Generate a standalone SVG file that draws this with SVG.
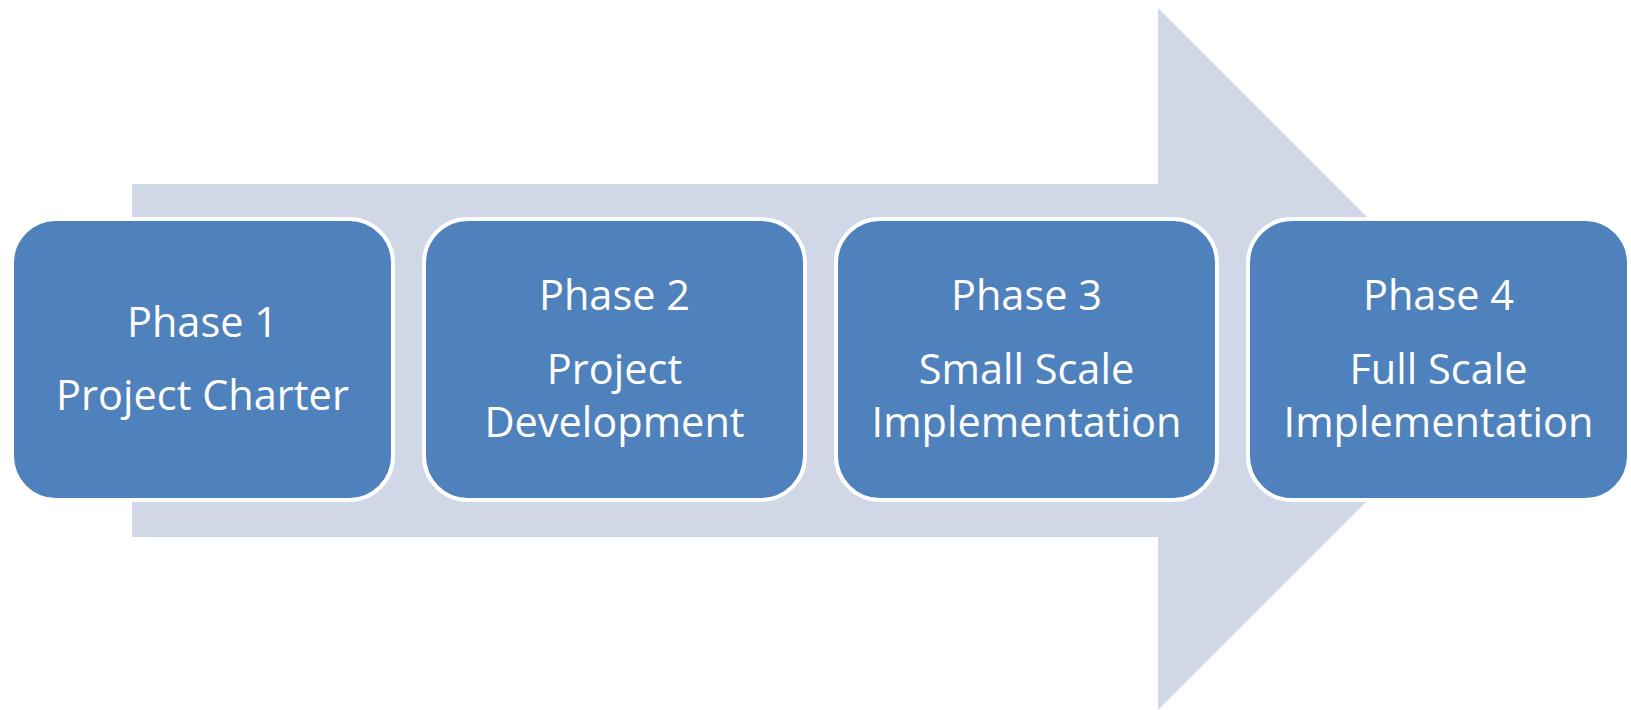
<svg xmlns="http://www.w3.org/2000/svg" width="1631" height="710" viewBox="0 0 1631 710">
  <style>
    .box { fill: #4F81BD; stroke: #FFFFFF; stroke-width: 4; }
    .lbl { fill: #FFFFFF; font-family: "Open Sans", "Noto Sans", sans-serif; font-size: 41.5px; text-anchor: middle; }
  </style>
  <rect x="0" y="0" width="1631" height="710" fill="#FFFFFF"/>
  <g id="arrow">
    <polygon points="132,184 1158,184 1158,8 1509,359 1158,710 1158,537 132,537" fill="#D0D8E8"/>
  </g>
  <g id="connectors"></g>
  <g id="phase1">
    <rect class="box" x="12" y="219" width="381" height="281" rx="44" ry="44"/>
    <text class="lbl" x="202.5" y="337">Phase 1</text>
    <text class="lbl" x="202.5" y="410">Project Charter</text>
  </g>
  <g id="phase2">
    <rect class="box" x="424" y="219" width="381" height="281" rx="44" ry="44"/>
    <text class="lbl" x="614.5" y="310">Phase 2</text>
    <text class="lbl" x="614.5" y="384">Project</text>
    <text class="lbl" x="614.5" y="437">Development</text>
  </g>
  <g id="phase3">
    <rect class="box" x="836" y="219" width="381" height="281" rx="44" ry="44"/>
    <text class="lbl" x="1026.5" y="310">Phase 3</text>
    <text class="lbl" x="1026.5" y="384">Small Scale</text>
    <text class="lbl" x="1026.5" y="437">Implementation</text>
  </g>
  <g id="phase4">
    <rect class="box" x="1248" y="219" width="381" height="281" rx="44" ry="44"/>
    <text class="lbl" x="1438.5" y="310">Phase 4</text>
    <text class="lbl" x="1438.5" y="384">Full Scale</text>
    <text class="lbl" x="1438.5" y="437">Implementation</text>
  </g>
</svg>
